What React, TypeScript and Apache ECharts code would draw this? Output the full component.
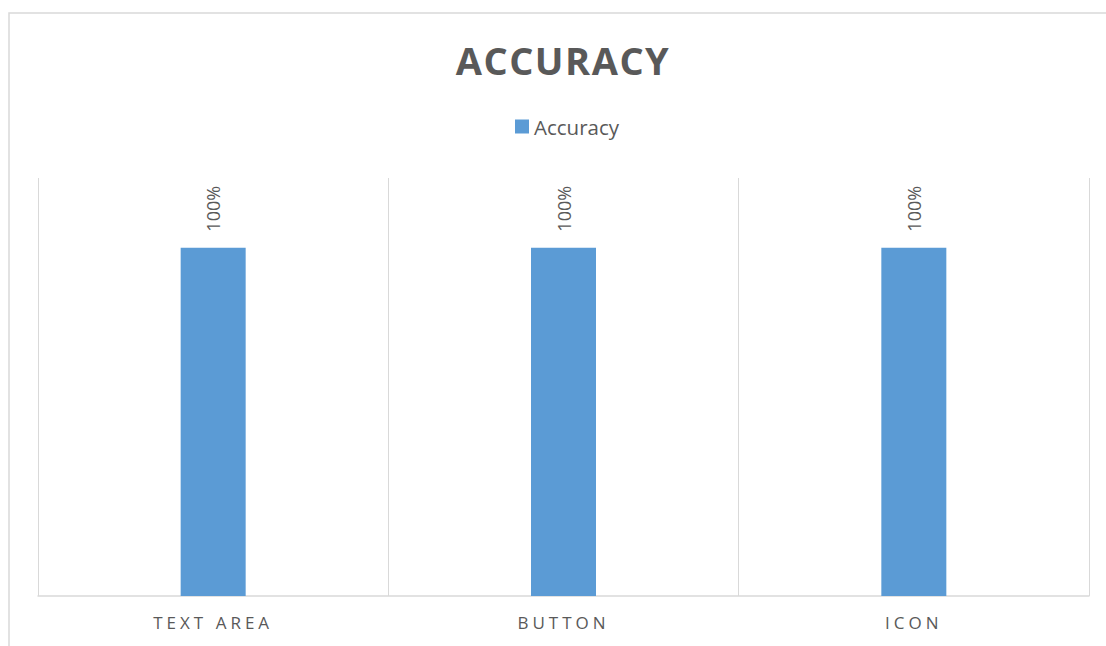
import React, { useEffect, useRef } from "react";
import * as echarts from "echarts";

const titleText = "ACCURACY";
const seriesName = "Accuracy";
const categories = ["TEXT AREA", "BUTTON", "ICON"];
const values = [100, 100, 100];
const yMax = 120;

export default function App() {
  const ref = useRef<HTMLDivElement>(null);
  useEffect(() => {
    document.body.style.margin = "0";
    const el = ref.current!;
    const chart = echarts.init(el, null, { renderer: "svg" });
    const font = "'Open Sans', sans-serif";
    chart.setOption({
      animation: false,
      backgroundColor: "#ffffff",
      title: {
        text: titleText,
        left: 558,
        textAlign: "center",
        top: 36,
        textStyle: { fontFamily: font, fontSize: 38, fontWeight: "bold", color: "#595959" },
      },
      legend: {
        data: [seriesName],
        top: 111,
        left: 510,
        itemWidth: 14,
        itemHeight: 14,
        icon: "rect",
        textStyle: { fontFamily: font, fontSize: 20.5, color: "#595959" },
      },
      grid: { left: 38, right: 17, top: 178, bottom: 50, containLabel: false },
      xAxis: {
        type: "category",
        data: categories,
        axisLine: { show: true, lineStyle: { color: "#d9d9d9", width: 1.5 } },
        axisTick: { show: false },
        splitLine: { show: true, lineStyle: { color: "#d9d9d9", width: 1 } },
        axisLabel: { fontFamily: font, fontSize: 17, color: "#595959", margin: 18 },
      },
      yAxis: {
        type: "value",
        min: 0,
        max: yMax,
        show: true,
        axisLine: { show: false },
        axisTick: { show: false },
        axisLabel: { show: false },
        splitLine: { show: false },
      },
      series: [
        {
          name: seriesName,
          type: "bar",
          data: values,
          barWidth: 65,
          itemStyle: { color: "#5b9bd5" },
          label: {
            show: true,
            position: "top",
            rotate: 90,
            align: "left",
            verticalAlign: "middle",
            distance: 16,
            formatter: (p: any) => `${p.value}%`,
            fontFamily: font,
            fontSize: 18,
            color: "#595959",
          },
        },
      ],
      graphic: [
        {
          type: "rect",
          shape: { x: 9, y: 13, width: 1200, height: 800 },
          style: { fill: "none", stroke: "#d9d9d9", lineWidth: 1.5 },
          silent: true,
          z: 100,
        },
      ],
    });
    const texts = el.querySelectorAll("text");
    texts.forEach((t) => {
      const c = t.textContent || "";
      if (categories.includes(c)) {
        (t as SVGTextElement).style.letterSpacing = "4px";
        t.setAttribute("dx", "0");
      } else if (c === titleText) {
        (t as SVGTextElement).style.letterSpacing = "1.5px";
      }
    });
    return () => chart.dispose();
  }, []);
  return <div ref={ref} style={{ width: 1106, height: 646 }} />;
}
